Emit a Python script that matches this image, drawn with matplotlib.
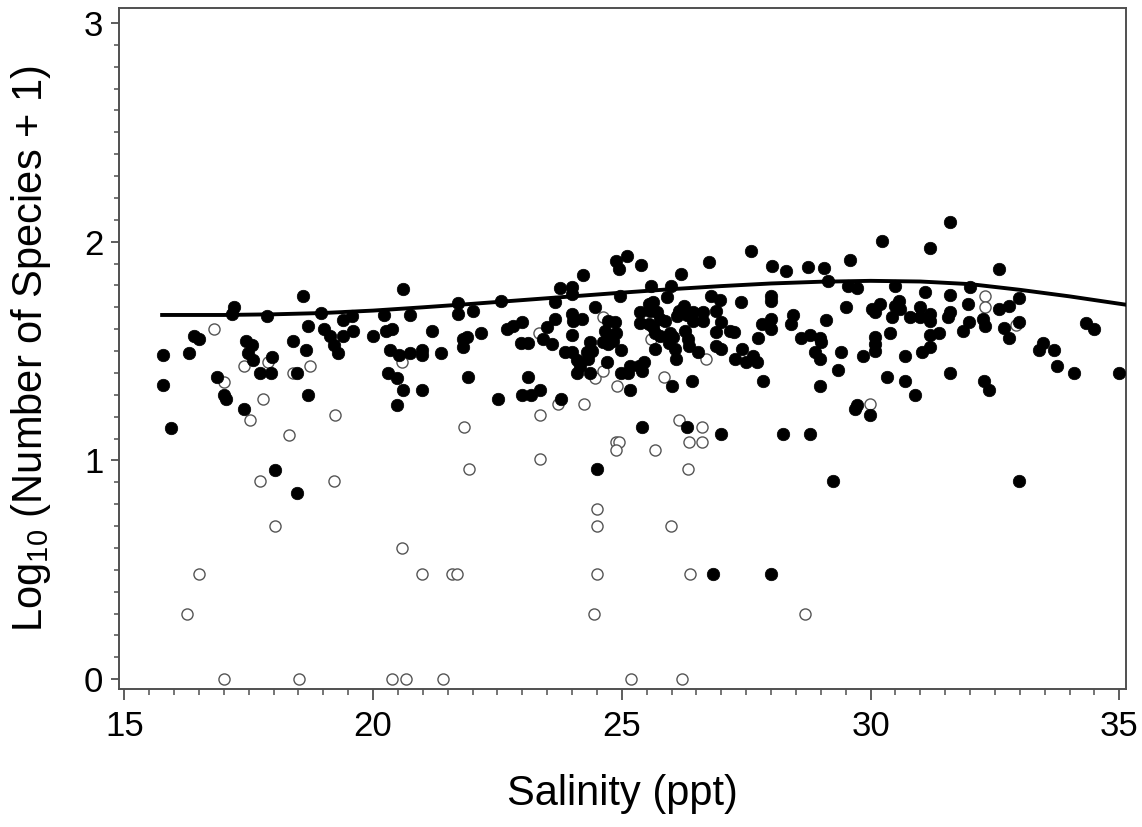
# import neccessary libraries
import matplotlib.pyplot as plt
import numpy as np

# salinity / log10(species + 1) for the filled points
filled_x = [15.78, 15.78, 15.93, 16.30, 16.40, 16.51, 17.20, 17.17, 16.87, 17.00,
            17.05, 17.41, 17.45, 17.56, 17.49, 17.59, 17.73, 17.94, 17.96, 17.86,
            18.02, 18.47, 18.60, 18.70, 18.39, 18.66, 18.47, 18.70, 18.95, 19.01,
            19.14, 19.22, 19.30, 19.39, 19.40, 19.57, 19.60, 20.00, 20.21, 20.26,
            20.39, 20.34, 20.53, 20.31, 20.48, 20.60, 20.48, 20.99, 20.61, 20.74,
            20.74, 20.99, 20.99, 21.18, 21.37, 21.70, 21.70,
            22.00, 21.81, 21.89, 21.80, 22.16, 21.90, 22.51, 22.57, 22.69, 22.82,
            22.99, 22.97, 23.12, 23.12, 22.99, 23.18, 23.36, 23.41, 23.49, 23.59,
            23.66, 23.65, 23.76, 23.99, 24.00, 23.77, 24.22, 24.46, 23.99, 24.01,
            24.20, 24.00, 23.86, 23.99, 24.09, 24.16, 24.09, 24.30, 24.36, 24.40,
            24.33, 24.36, 24.70, 24.73, 24.66, 24.76, 24.73, 24.86, 24.89, 24.83,
            24.63, 24.89, 24.95, 25.11, 25.39, 24.96, 24.99, 24.99, 25.17, 25.13,
            25.17, 25.34, 25.45, 25.40, 25.59, 25.37, 25.54, 25.63, 25.57, 25.70,
            25.37, 25.54, 25.63, 25.77, 25.67, 25.77, 25.67, 25.90, 25.99, 25.87,
            25.97, 26.03, 25.95, 26.10, 26.15, 26.06, 26.09, 26.24, 26.31, 26.28,
            26.34, 26.36, 26.44, 26.44, 26.19, 26.54, 26.64, 26.64, 26.75, 26.80,
            26.97, 26.89, 27.00, 26.89, 26.89, 27.00, 27.18, 27.25, 27.40, 27.28,
            27.41, 27.50, 27.64, 27.71, 27.74, 27.81, 27.59, 28.01, 28.00, 28.00,
            28.00, 28.00, 27.83, 26.00, 26.41, 25.40, 26.31, 27.00, 24.50,
            26.84, 28.00,
            28.30, 28.75, 29.07, 29.14, 29.59, 29.55, 29.73, 30.23, 30.49, 31.20,
            31.60, 31.09, 31.60, 32.00, 32.59, 32.99, 32.79, 32.58, 31.95, 28.45,
            28.40, 29.10, 29.50, 30.02, 30.19, 30.08, 30.58, 30.49, 30.59, 30.43,
            30.79, 30.99, 30.99, 31.20, 31.20, 31.60, 31.56, 31.98, 31.85, 32.26,
            32.30, 32.68, 32.79, 32.99, 28.60, 28.78, 28.99, 29.00, 28.88, 28.99,
            29.40, 29.35, 28.99, 29.85, 30.08, 30.08, 30.08, 30.39, 30.69, 31.04,
            31.20, 31.37, 31.20, 31.60, 30.34, 30.69, 30.89, 32.28, 32.39, 29.73,
            29.69, 29.99, 34.33, 34.49, 33.47, 33.39, 33.69, 33.74, 34.08, 34.99,
            28.23, 28.79, 29.24, 32.99]
filled_y = [1.48, 1.345, 1.15, 1.49, 1.57, 1.555, 1.70, 1.67, 1.38, 1.30,
            1.28, 1.235, 1.545, 1.53, 1.49, 1.46, 1.40, 1.40, 1.475, 1.66,
            0.955, 0.85, 1.75, 1.615, 1.545, 1.505, 1.40, 1.30, 1.675, 1.60,
            1.57, 1.53, 1.49, 1.64, 1.57, 1.66, 1.59, 1.57, 1.665, 1.59,
            1.60, 1.505, 1.48, 1.40, 1.375, 1.32, 1.255, 1.32, 1.785, 1.665,
            1.49, 1.505, 1.48, 1.59, 1.49, 1.72, 1.67,
            1.685, 1.555, 1.563, 1.52, 1.583, 1.38, 1.281, 1.727, 1.601, 1.616,
            1.635, 1.536, 1.536, 1.38, 1.30, 1.30, 1.324, 1.555, 1.609, 1.533,
            1.647, 1.726, 1.787, 1.794, 1.761, 1.281, 1.848, 1.703, 1.67, 1.639,
            1.647, 1.574, 1.495, 1.495, 1.457, 1.434, 1.40, 1.495, 1.54, 1.502,
            1.464, 1.40, 1.449, 1.639, 1.593, 1.571, 1.533, 1.631, 1.583, 1.545,
            1.54, 1.913, 1.875, 1.936, 1.895, 1.75, 1.507, 1.40, 1.434, 1.40,
            1.324, 1.434, 1.452, 1.411, 1.796, 1.677, 1.715, 1.726, 1.685, 1.677,
            1.628, 1.624, 1.609, 1.647, 1.583, 1.571, 1.51, 1.746, 1.796, 1.639,
            1.583, 1.563, 1.537, 1.662, 1.685, 1.51, 1.464, 1.708, 1.665, 1.593,
            1.555, 1.525, 1.68, 1.639, 1.852, 1.495, 1.68, 1.639, 1.905, 1.753,
            1.735, 1.685, 1.635, 1.586, 1.525, 1.51, 1.593, 1.586, 1.726, 1.464,
            1.51, 1.449, 1.479, 1.449, 1.558, 1.624, 1.959, 1.887, 1.753, 1.73,
            1.647, 1.601, 1.365, 1.342, 1.365, 1.152, 1.152, 1.119, 0.959,
            0.48, 0.48,
            1.867, 1.883, 1.878, 1.822, 1.916, 1.799, 1.787, 2.004, 1.799, 1.971,
            2.088, 1.772, 1.758, 1.794, 1.875, 1.743, 1.708, 1.692, 1.715, 1.665,
            1.624, 1.644, 1.70, 1.692, 1.715, 1.68, 1.73, 1.708, 1.692, 1.654,
            1.654, 1.70, 1.654, 1.67, 1.639, 1.677, 1.654, 1.635, 1.593, 1.647,
            1.616, 1.604, 1.558, 1.635, 1.558, 1.574, 1.558, 1.54, 1.495, 1.464,
            1.495, 1.415, 1.342, 1.479, 1.563, 1.533, 1.502, 1.583, 1.479, 1.495,
            1.574, 1.583, 1.517, 1.40, 1.38, 1.365, 1.30, 1.365, 1.324, 1.254,
            1.233, 1.21, 1.628, 1.601, 1.537, 1.507, 1.507, 1.431, 1.399, 1.399,
            1.119, 1.119, 0.908, 0.908]

# open points
open_x = [16.81, 17.01, 17.53, 17.41, 17.79, 17.89, 18.31, 17.73, 19.21, 19.24,
          18.40, 18.73, 20.58,
          18.02, 16.50, 16.26, 17.01, 18.52, 20.58, 20.99, 21.58, 21.69, 20.38,
          20.67, 21.40, 24.50, 24.50, 24.50, 24.44,
          25.99, 26.38, 28.69, 25.19, 26.20,
          21.83, 21.93, 23.36, 23.36, 23.34, 23.72, 24.24, 24.46, 24.63, 24.63,
          24.91, 25.59, 26.69, 25.85, 26.15, 26.61, 26.36, 26.61, 24.89, 24.95,
          24.89, 25.67, 26.34,
          32.30, 32.30, 32.92, 29.99]
open_y = [1.60, 1.36, 1.185, 1.43, 1.28, 1.45, 1.115, 0.905, 0.905, 1.21,
          1.40, 1.43, 1.45,
          0.70, 0.48, 0.30, 0.0, 0.0, 0.60, 0.48, 0.48, 0.48, 0.0,
          0.0, 0.0, 0.78, 0.70, 0.48, 0.30,
          0.70, 0.48, 0.30, 0.0, 0.0,
          1.152, 0.959, 1.21, 1.007, 1.583, 1.259, 1.259, 1.377, 1.411, 1.654,
          1.342, 1.555, 1.464, 1.38, 1.186, 1.152, 1.084, 1.084, 1.084, 1.084,
          1.046, 1.046, 0.959,
          1.753, 1.70, 1.62, 1.259]

# fitted curve
curve_x = [15.76, 17, 18, 19, 20, 21, 22, 23, 24, 25,
           26, 27, 28, 29, 30, 31, 32, 33, 34, 35.13]
curve_y = [1.665, 1.665, 1.668, 1.674, 1.685, 1.700, 1.716, 1.733, 1.750, 1.767,
           1.783, 1.797, 1.809, 1.817, 1.821, 1.818, 1.806, 1.780, 1.750, 1.712]

plt.rcParams['font.family'] = ['Liberation Sans', 'DejaVu Sans']
plt.rcParams['mathtext.fontset'] = 'custom'
plt.rcParams['mathtext.rm'] = 'Liberation Sans'

fig = plt.figure(figsize=(11.42, 8.27), dpi=100)
ax = fig.add_axes([0.1045, 0.1665, 0.8813, 0.8238])

ax.plot(open_x, open_y, 'o', ms=8, mfc='white', mec='#555555', mew=1.0, zorder=2)
ax.plot(filled_x, filled_y, 'o', ms=9, mfc='black', mec='black', mew=0.5, zorder=3)
ax.plot(curve_x, curve_y, '-', color='black', lw=2.8, zorder=4)

ax.set_xlim(14.9, 35.13)
ax.set_ylim(-0.046, 3.068)
ax.set_xticks([15, 20, 25, 30, 35])
ax.set_xticks(np.arange(15, 35.01, 0.5), minor=True)
ax.set_yticks([0, 1, 2, 3])
ax.set_yticks(np.arange(0, 3.01, 0.1), minor=True)

for s in ax.spines.values():
    s.set_color('#505050')
    s.set_linewidth(1.4)
ax.tick_params(which='both', color='#505050', labelsize=25)
ax.tick_params(axis='x', which='major', length=8, width=1.3, pad=7)
ax.tick_params(axis='x', which='minor', length=4, width=1.1)
ax.tick_params(axis='y', which='major', length=5.5, width=1.3, pad=6)
ax.tick_params(axis='y', which='minor', length=3.5, width=1.1)

ax.set_xlabel('Salinity (ppt)', fontsize=30, labelpad=22)
ax.set_ylabel('Log$_{10}$ (Number of Species + 1)', fontsize=30, labelpad=22)

plt.savefig('out.png', dpi=100)
